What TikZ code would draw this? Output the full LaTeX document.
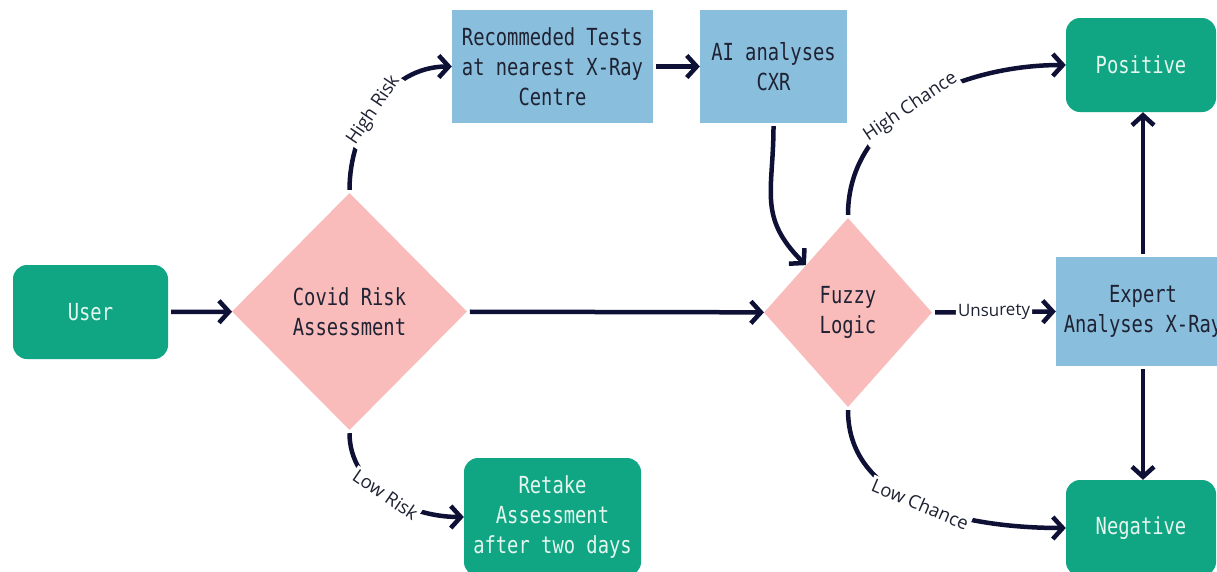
\documentclass[tikz,border=0pt]{standalone}
\usepackage{fontspec}
\newfontfamily\boxfont[FakeStretch=0.8]{DejaVu Sans Mono}
\newfontfamily\lblfont{Open Sans}
\usetikzlibrary{shapes.geometric,arrows.meta}
\definecolor{gboxc}{HTML}{10A683}
\definecolor{bboxc}{HTML}{89BEDC}
\definecolor{pinkc}{HTML}{F9BCBB}
\definecolor{navy}{HTML}{0E1035}
\definecolor{mint}{HTML}{E4F6EE}
\definecolor{dtext}{HTML}{1F2233}
\begin{document}
\begin{tikzpicture}[x=1pt,y=1pt,
 btxt/.style={font=\boxfont\fontsize{23.5}{30}\selectfont, align=center},
 gbox/.style={btxt, fill=gboxc, text=mint, rounded corners=14pt, inner sep=0pt},
 bbox/.style={btxt, fill=bboxc, text=dtext, inner sep=0pt},
 dbox/.style={btxt, diamond, fill=pinkc, text=dtext, inner sep=0pt},
 arr/.style={draw=navy, line width=4.5pt, -{Straight Barb[length=10pt,width=22pt]}, shorten <=3pt},
 lbl/.style={font=\lblfont\fontsize{18.5}{22}\selectfont, text=dtext, fill=white, inner sep=2pt, sloped},
 lblh/.style={lbl, font=\lblfont\fontsize{17}{20}\selectfont}
]
\clip (0,0) rectangle (1217,-571);
\fill[white] (0,0) rectangle (1217,-571);
\node[gbox, minimum width=155, minimum height=94] (user) at (90.5,-312) {User};
\node[dbox, minimum width=235, minimum height=237] (covid) at (349.5,-311.5) {Covid Risk\\Assessment};
\node[bbox, minimum width=201, minimum height=113] (rec) at (552.5,-66.5) {Recommeded Tests\\at nearest X-Ray\\Centre};
\node[bbox, minimum width=147, minimum height=113] (ai) at (773.5,-66.5) {AI analyses\\CXR};
\node[dbox, minimum width=168, minimum height=189] (fuzzy) at (848,-312.5) {Fuzzy\\Logic};
\node[gbox, minimum width=150, minimum height=94] (pos) at (1141,-65) {Positive};
\node[bbox, minimum width=174, minimum height=109] (expert) at (1143,-311.5) {Expert\\Analyses X-Ray};
\node[gbox, minimum width=150, minimum height=96] (neg) at (1141,-528) {Negative};
\node[gbox, minimum width=177, minimum height=118] (retake) at (552.5,-517) {Retake\\Assessment\\after two days};

\draw[arr] (user) -- (covid);
\draw[arr] (covid) -- (fuzzy);
\draw[arr] (rec) -- (ai);
\draw[arr] (covid.north) to[out=90,in=180] node[lbl,pos=0.47]{High Risk} (rec.west);
\draw[arr] (ai.south) to[out=-90,in=135,looseness=1.2] (fuzzy.north west);
\draw[arr] (fuzzy.north) to[out=90,in=180] node[lbl,pos=0.47]{High Chance} (pos.west);
\draw[arr] (fuzzy.south) to[out=-90,in=180] node[lbl,pos=0.5]{Low Chance} (neg.west);
\draw[arr] (fuzzy.east) -- node[lblh]{Unsurety} (expert.west);
\draw[arr] (expert.north) -- (expert.north |- pos.south);
\draw[arr] (expert.south) -- (expert.south |- neg.north);
\draw[arr] (covid.south) to[out=-90,in=180] node[lbl,pos=0.5]{Low Risk} (retake.west);
\end{tikzpicture}
\end{document}
